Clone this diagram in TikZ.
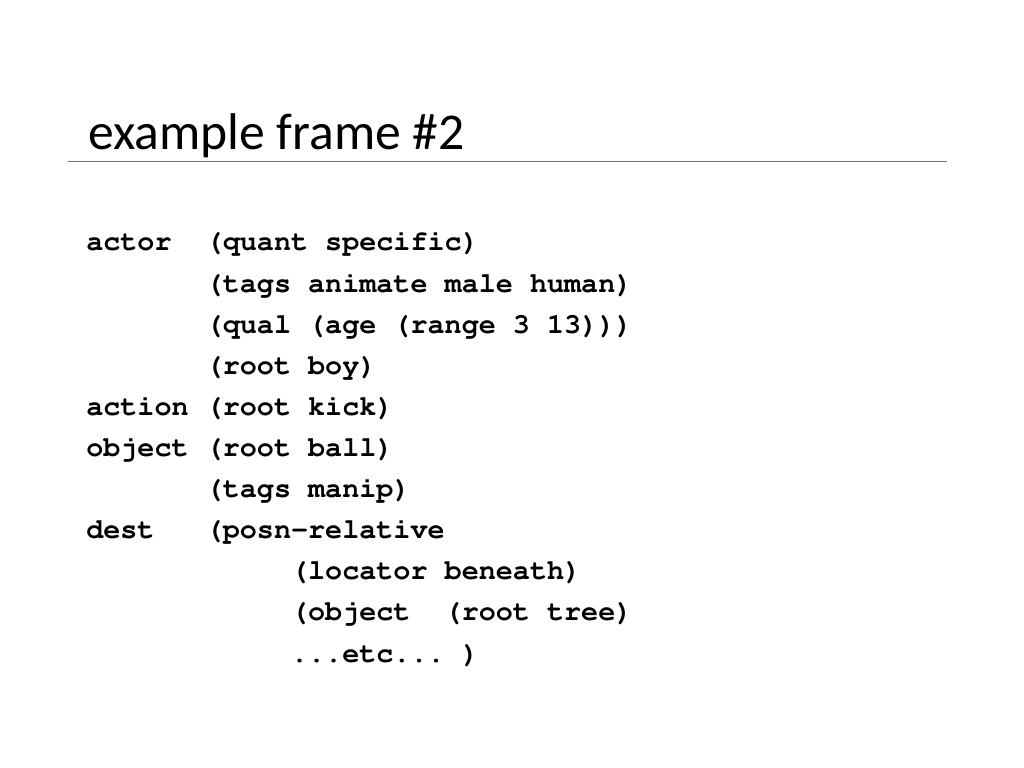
\documentclass[tikz,border=0pt]{standalone}
\usepackage[T1]{fontenc}
\usepackage{fontspec}
\setmainfont{Carlito}
\newcommand{\mycodefont}{\fontencoding{T1}\fontfamily{pcr}\fontseries{b}\selectfont\frenchspacing}
\begin{document}
\begin{tikzpicture}[x=0.703125pt,y=-0.703125pt,
  code/.style={anchor=base west,inner sep=0pt,font=\mycodefont\fontsize{20}{24}\selectfont},
  titletext/.style={anchor=base west,inner sep=0pt,font=\fontsize{36.3}{44}\selectfont}]
\useasboundingbox[fill=white] (0,0) rectangle (1024,768);
\node[titletext] (title) at (88,150) {example frame \#2};
\coordinate (rl) at (68,161.5);
\coordinate (rr) at (947,161.5);
\draw[line width=0.8pt,color=black!55] (rl) -- (rr);
\foreach \i/\t in {0/{actor\ \ (quant specific)},
  1/{\ \ \ \ \ \ \ (tags animate male human)},
  2/{\ \ \ \ \ \ \ (qual (age (range 3 13)))},
  3/{\ \ \ \ \ \ \ (root boy)},
  4/{action (root kick)},
  5/{object (root ball)},
  6/{\ \ \ \ \ \ \ (tags manip)},
  7/{dest\ \ \ (posn-relative},
  8/{\ \ \ \ \ \ \ \ \ \ \ \ (locator beneath)},
  9/{\ \ \ \ \ \ \ \ \ \ \ \ (object\ \ (root tree)},
  10/{\ \ \ \ \ \ \ \ \ \ \ \ ...etc...\ )}}
  \node[code] (l\i) at (86,251+41.1*\i) {\t};
\end{tikzpicture}
\end{document}
